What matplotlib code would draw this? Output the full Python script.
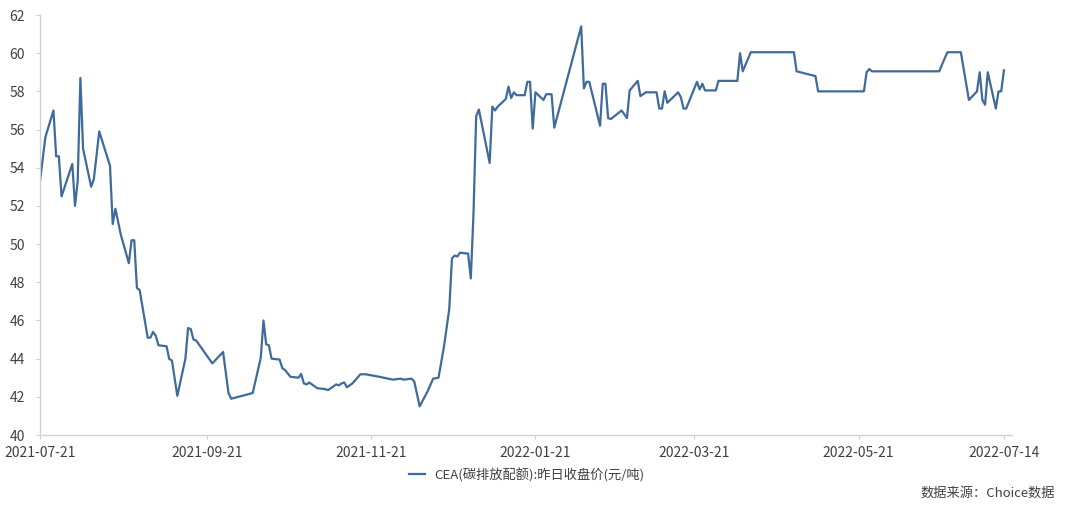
import numpy as np
import pandas as pd
import matplotlib
matplotlib.use("Agg")
import matplotlib.pyplot as plt
import matplotlib.dates as mdates

plt.rcParams['font.family'] = ['Noto Sans CJK SC', 'DejaVu Sans']

# days since 2021-07-21 (line vertices)
start_date = "2021-07-21"
day_offset = [
    0, 2, 5, 6, 7, 8, 12, 13, 14, 15, 16, 19, 20, 22, 26, 27, 28, 30, 33, 34,
    35, 36, 37, 40, 41, 42, 43, 44, 47, 48, 49, 51, 54, 55, 56, 57, 58, 64, 65, 68,
    70, 71, 79, 82, 83, 84, 85, 86, 89, 90, 91, 93, 96, 97, 98, 99, 100, 103, 106, 107,
    110, 111, 112, 113, 114, 116, 119, 121, 124, 126, 131, 134, 135, 138, 139, 141, 144, 146, 148, 150,
    152, 153, 154, 155, 156, 159, 160, 161, 162, 163, 167, 168, 169, 170, 173, 174, 175, 176, 177, 180,
    181, 182, 183, 184, 187, 188, 190, 191, 201, 202, 203, 204, 208, 209, 210, 211, 212, 216, 218, 219,
    222, 223, 225, 229, 230, 231, 232, 233, 237, 238, 239, 240, 244, 245, 246, 247, 251, 252, 259, 260,
    261, 264, 280, 281, 288, 289, 306, 307, 308, 309, 334, 335, 337, 342, 345, 348, 349, 350, 351, 352,
    355, 356, 357, 358,
]
price = [
    53.3, 55.6, 57.0, 54.6, 54.6, 52.5, 54.2, 52.0, 53.3, 58.7, 55.0, 53.0, 53.4, 55.9, 54.1, 51.05, 51.85, 50.5, 49.0, 50.2,
    50.2, 47.7, 47.6, 45.1, 45.1, 45.4, 45.2, 44.7, 44.65, 43.98, 43.9, 42.05, 44.0, 45.6, 45.55, 45.0, 44.95, 43.75, 43.9, 44.35,
    42.2, 41.9, 42.2, 44.05, 46.0, 44.75, 44.7, 44.0, 43.95, 43.5, 43.4, 43.05, 43.0, 43.2, 42.7, 42.65, 42.75, 42.45, 42.4, 42.35,
    42.65, 42.6, 42.7, 42.75, 42.5, 42.7, 43.18, 43.18, 43.1, 43.05, 42.9, 42.95, 42.9, 42.95, 42.8, 41.5, 42.3, 42.95, 43.0, 44.6,
    46.6, 49.25, 49.4, 49.35, 49.55, 49.5, 48.2, 51.6, 56.7, 57.05, 54.25, 57.2, 57.0, 57.2, 57.6, 58.25, 57.65, 57.95, 57.8, 57.8,
    58.5, 58.5, 56.05, 57.95, 57.55, 57.85, 57.85, 56.1, 61.4, 58.15, 58.5, 58.5, 56.2, 58.4, 58.4, 56.6, 56.55, 57.0, 56.6, 58.05,
    58.55, 57.75, 57.95, 57.95, 57.1, 57.1, 58.0, 57.4, 57.95, 57.7, 57.1, 57.1, 58.5, 58.1, 58.4, 58.05, 58.05, 58.55, 58.55, 60.0,
    59.05, 60.05, 60.05, 59.05, 58.8, 58.0, 58.0, 59.0, 59.17, 59.05, 59.05, 59.4, 60.05, 60.05, 57.55, 58.0, 59.0, 57.55, 57.3, 59.0,
    57.1, 58.0, 58.0, 59.1,
]
tick_dates = ["2021-07-21", "2021-09-21", "2021-11-21", "2022-01-21",
              "2022-03-21", "2022-05-21", "2022-07-14"]
series_name = "CEA(碳排放配额):昨日收盘价(元/吨)"
source_note = "数据来源：Choice数据"

dates = pd.Timestamp(start_date) + pd.to_timedelta(day_offset, unit="D")

fig = plt.figure(figsize=(10.8, 5.2), dpi=100)
ax = fig.add_axes([40 / 1080, 85 / 520, 972 / 1080, 420 / 520])

ax.plot(dates, price, color="#3e6b9b", linewidth=1.6, label=series_name)

ax.set_ylim(40, 62)
ax.set_yticks(np.arange(40, 63, 2))
ax.set_xlim(pd.Timestamp(start_date), pd.Timestamp("2022-07-17"))
ax.set_xticks(pd.to_datetime(tick_dates))
ax.xaxis.set_major_formatter(mdates.DateFormatter("%Y-%m-%d"))

for side in ["top", "right"]:
    ax.spines[side].set_visible(False)
for side in ["left", "bottom"]:
    ax.spines[side].set_color("#d0d0d0")
    ax.spines[side].set_linewidth(1.0)
ax.tick_params(axis="both", colors="#d0d0d0", labelcolor="#404040",
               labelsize=10, length=3, width=0.8)
ax.tick_params(axis="y", pad=8)
ax.tick_params(axis="x", pad=5)

leg = fig.legend(loc="center", bbox_to_anchor=(527 / 1080, 1 - 475 / 520),
                 frameon=False, fontsize=9.5, handlelength=1.2, handletextpad=0.7)
for t in leg.get_texts():
    t.set_color("#404040")

fig.text(1055 / 1080, 1 - 493 / 520, source_note, ha="right", va="center",
         fontsize=9.5, color="#404040")

fig.savefig("out.png", dpi=100)
